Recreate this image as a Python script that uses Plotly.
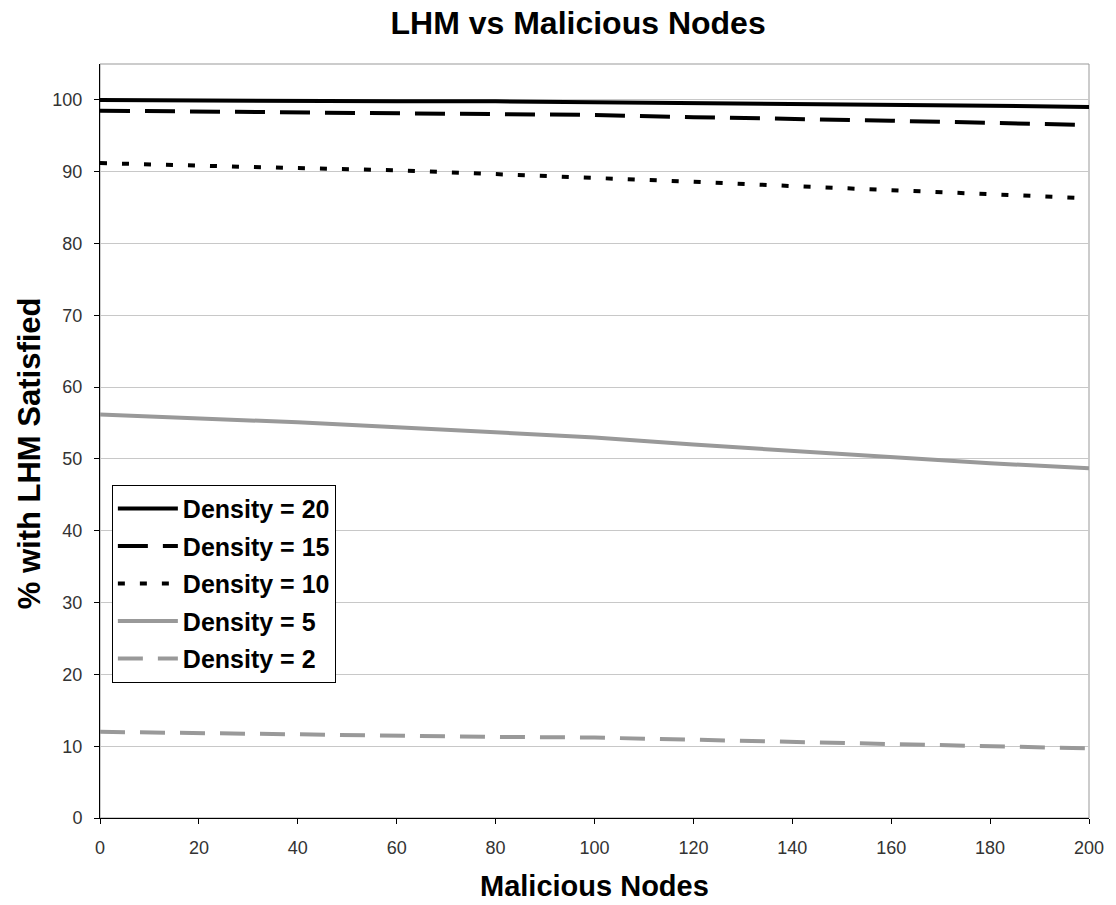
import plotly.graph_objects as go

x_nodes = [0, 20, 40, 60, 80, 100, 120, 140, 160, 180, 200]
density_20 = [100, 99.9, 99.8, 99.8, 99.8, 99.7, 99.6, 99.5, 99.4, 99.2, 99.0]
density_15 = [98.5, 98.4, 98.3, 98.2, 98.1, 97.9, 97.6, 97.4, 97.1, 96.8, 96.5]
density_10 = [91.2, 90.8, 90.5, 90.2, 89.7, 89.2, 88.6, 88.0, 87.4, 86.9, 86.3]
density_5 = [56.2, 55.7, 55.1, 54.4, 53.7, 53.0, 52.0, 51.1, 50.3, 49.4, 48.7]
density_2 = [12.0, 11.8, 11.6, 11.5, 11.3, 11.2, 10.9, 10.6, 10.3, 10.0, 9.7]

series = [
    ("Density = 20", density_20, "#000000", "solid"),
    ("Density = 15", density_15, "#000000", "30px,15px"),
    ("Density = 10", density_10, "#000000", "7px,15px"),
    ("Density = 5", density_5, "#999999", "solid"),
    ("Density = 2", density_2, "#999999", "25px,15px"),
]

font = "Arial, Liberation Sans, sans-serif"
fig = go.Figure()
for i, (name, vals, color, dash) in enumerate(series):
    fig.add_trace(go.Scatter(x=x_nodes, y=vals, mode="lines", name="<b>" + name + "</b>",
                             legendgroup=str(i),
                             line=dict(color=color, width=4, dash=dash)))

fig.update_layout(
    width=1116, height=905,
    margin=dict(l=100, r=24, t=64, b=87),
    paper_bgcolor="white", plot_bgcolor="white",
    title=dict(text="<b>LHM vs Malicious Nodes</b>", x=0.518, xanchor="center",
               y=0.975, yanchor="middle", font=dict(family=font, size=32, color="#000")),
    legend=dict(x=0.012, y=0.442, xanchor="left", yanchor="top",
                bordercolor="#000", borderwidth=1, bgcolor="white",
                font=dict(family=font, size=25, color="#000"),
                itemwidth=60, tracegroupgap=2),
    showlegend=True,
    annotations=[
        dict(text="<b>% with LHM Satisfied</b>", textangle=-90,
             xref="paper", yref="paper", x=-0.0716, y=0.484,
             xanchor="center", yanchor="middle", showarrow=False,
             font=dict(family=font, size=31, color="#000")),
        dict(text="<b>Malicious Nodes</b>",
             xref="paper", yref="paper", x=0.5, y=-0.0905,
             xanchor="center", yanchor="middle", showarrow=False,
             font=dict(family=font, size=29, color="#000")),
    ],
)
fig.update_xaxes(range=[0, 200], tickvals=list(range(0, 201, 20)),
                 showgrid=False, showline=True, linecolor="#000", linewidth=1,
                 ticks="outside", ticklen=5, tickcolor="#000",
                 ticklabelstandoff=8,
                 tickfont=dict(family=font, size=18, color="#333"),
                 mirror=False, zeroline=False)
fig.update_yaxes(range=[0, 105], tickvals=list(range(0, 101, 10)),
                 showgrid=True, gridcolor="#c8c8c8", gridwidth=1,
                 showline=True, linecolor="#000", linewidth=1,
                 ticks="outside", ticklen=5, tickcolor="#000",
                 ticklabelstandoff=8,
                 tickfont=dict(family=font, size=18, color="#333"),
                 zeroline=False)
fig.add_shape(type="rect", xref="paper", yref="paper", x0=0, y0=0, x1=1, y1=1,
              line=dict(color="#999", width=1), layer="below")

fig.write_html("out.html")
